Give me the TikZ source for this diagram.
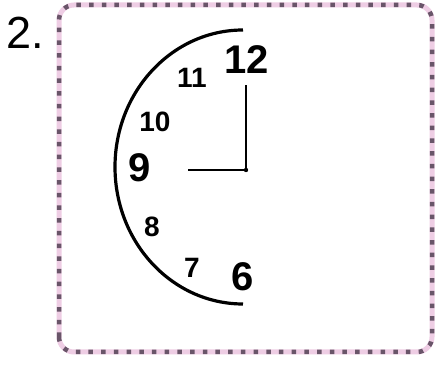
\documentclass[tikz,border=0pt]{standalone}
\usepackage{fontspec}
\setmainfont{Liberation Sans}
\usetikzlibrary{positioning}
\definecolor{dotgray}{RGB}{105,85,105}
\definecolor{dotpink}{RGB}{238,205,228}
\tikzset{
    bignum/.style={inner sep=0pt,font=\fontsize{40}{40}\selectfont\bfseries},
    smallnum/.style={inner sep=0pt,font=\fontsize{28}{28}\selectfont\bfseries},
    hand/.style={line width=2.6pt},
    dial/.style={line width=3.2pt}
}

\begin{document}
\begin{tikzpicture}[x=1pt,y=1pt]
\useasboundingbox (0,0) rectangle (445,372);

%frame
\draw[dotpink, line width=5pt, rounded corners=15pt] (59,20) rectangle (432,367);
\draw[dotgray, line width=4.5pt, dash pattern=on 4.5pt off 8.2pt, rounded corners=15pt] (59,20) rectangle (432,367);

\node[inner sep=0pt,font=\fontsize{45}{45}\selectfont] (num) at (25,339) {2.};

%clock
\coordinate (c) at (246,202);
\coordinate (m) at (246,287);
\coordinate (h) at (188,202);
\draw[dial] (243,342) arc[start angle=90, end angle=270, x radius=128, y radius=137];
\draw[hand] (c) -- (m);
\draw[hand] (c) -- (h);
\fill (c) circle (2.2pt);

\node[bignum] (12) at (247,312) {12};
\node[smallnum] (11) at (192,294) {11};
\node[smallnum] (10) at (155,250) {10};
\node[bignum] (9) at (140,204) {9};
\node[smallnum] (8) at (152,145) {8};
\node[smallnum] (7) at (192,104) {7};
\node[bignum] (6) at (243,95) {6};
\end{tikzpicture}
\end{document}
